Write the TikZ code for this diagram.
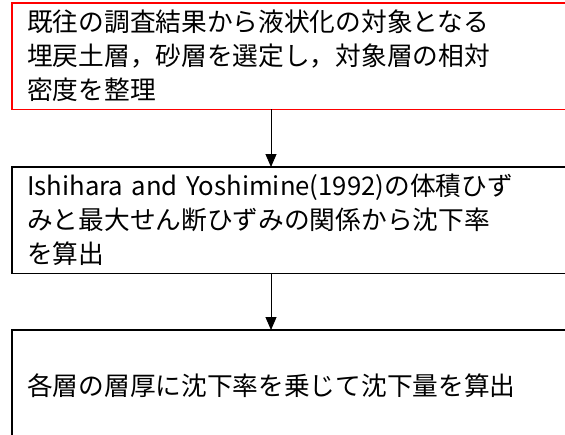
\documentclass[tikz,border=0pt]{standalone}
\usepackage{fontspec}
\newfontfamily\jpfont{Noto Sans CJK JP}
\usetikzlibrary{arrows.meta}
\definecolor{FrameRed}{HTML}{FF0000}

\begin{document}
\begin{tikzpicture}[
    x=1pt,y=1pt,
    box/.style={anchor=north west,text width=523pt,minimum width=553pt,
      inner xsep=15pt,inner ysep=0pt,align=left,
      font=\jpfont\fontsize{25.7}{34}\selectfont},
    flow/.style={-{Triangle[length=13pt,width=11pt]},line width=1pt,draw=black}
  ]
  \useasboundingbox (0,0) rectangle (565,-434);
  \node[box,minimum height=106pt] (survey) at (12,-3)
    {既往の調査結果から液状化の対象となる\\埋戻土層，砂層を選定し，対象層の相対\\密度を整理};
  \node[box,minimum height=106pt] (rate) at (12,-167)
    {Ishihara and Yoshimine(1992)の体積ひず\\みと最大せん断ひずみの関係から沈下率\\を算出};
  \node[box,minimum height=110pt] (amount) at (12,-330)
    {各層の層厚に沈下率を乗じて沈下量を算出};
  % frames, open on the right (thin bars)
  \foreach \n/\c in {survey/FrameRed,rate/black,amount/black}{
    \fill[\c] ([shift={(-0.6,0.6)}]\n.north west) rectangle ([shift={(556,-0.6)}]\n.north west);
    \fill[\c] ([shift={(-0.6,0.6)}]\n.south west) rectangle ([shift={(556,-0.6)}]\n.south west);
    \fill[\c] ([shift={(-0.6,0.6)}]\n.north west) rectangle ([shift={(0.6,-0.6)}]\n.south west);
  }
  \coordinate (axis) at (271,0);
  \draw[flow] (survey.south -| axis) -- (rate.north -| axis);
  \draw[flow] (rate.south -| axis) -- (amount.north -| axis);
\end{tikzpicture}
\end{document}
